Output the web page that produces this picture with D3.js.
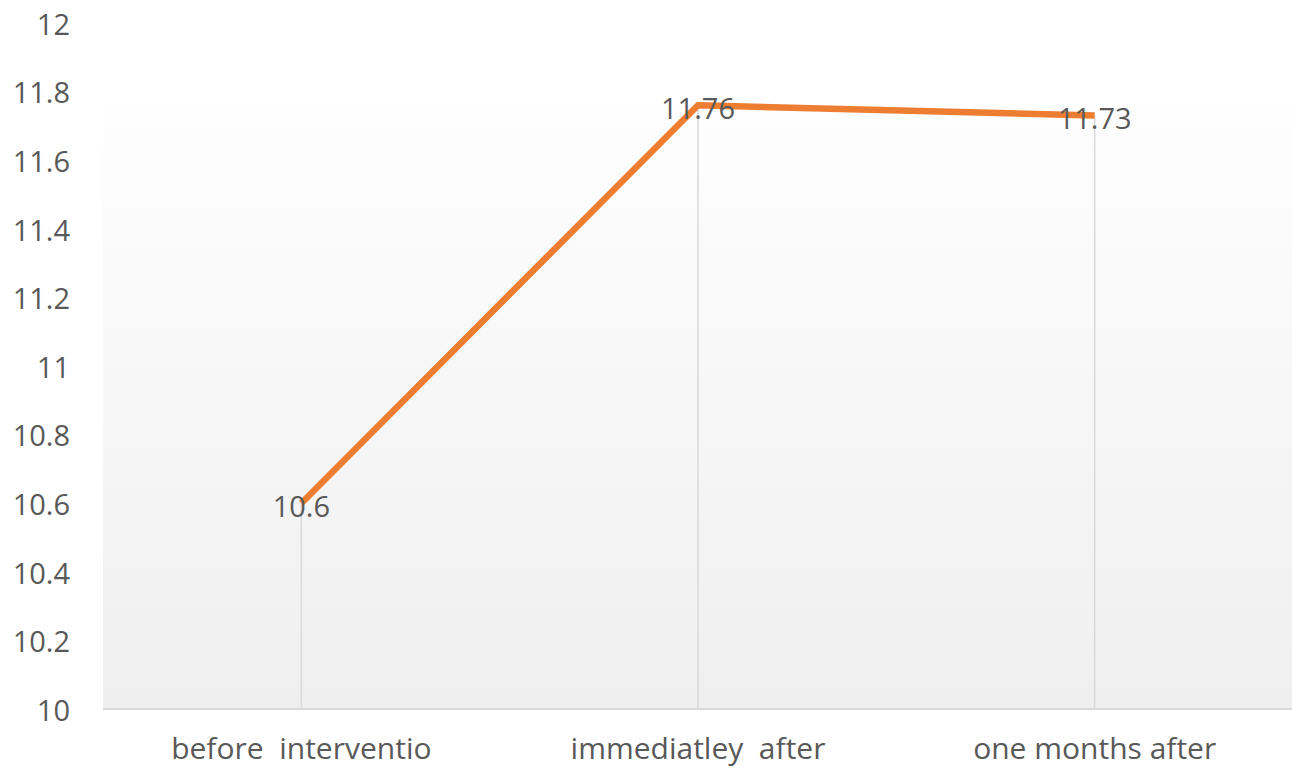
<!DOCTYPE html>
<html>
<head>
<meta charset="utf-8">
<script src="https://cdn.jsdelivr.net/npm/d3@7"></script>
<style>
  body { margin: 0; background: #fff; }
  svg { display: block; }
</style>
</head>
<body>
<div id="chart"></div>
<script>
const categories = ["before  interventio", "immediatley  after", "one months after"];
const values = [10.6, 11.76, 11.73];
const yTicks = [10, 10.2, 10.4, 10.6, 10.8, 11, 11.2, 11.4, 11.6, 11.8, 12];

const width = 1292, height = 768;
const plotLeft = 103, plotRight = 1293, plotTop = 23, plotBottom = 709;
const font = "'Open Sans', sans-serif";
const textColor = "#595959";

const svg = d3.select("#chart").append("svg")
  .attr("width", width)
  .attr("height", height);

// plot area background gradient
const grad = svg.append("defs").append("linearGradient")
  .attr("id", "bg")
  .attr("x1", 0).attr("y1", 0).attr("x2", 0).attr("y2", 1);
grad.append("stop").attr("offset", "0%").attr("stop-color", "#fefefe");
grad.append("stop").attr("offset", "100%").attr("stop-color", "#efefef");

const x = d3.scaleBand().domain(categories).range([plotLeft, plotRight]).padding(0);
const y = d3.scaleLinear().domain([10, 12]).range([plotBottom, plotTop]);

svg.append("rect")
  .attr("x", plotLeft)
  .attr("y", y(11.76))
  .attr("width", plotRight - plotLeft)
  .attr("height", plotBottom - y(11.76))
  .attr("fill", "url(#bg)");

// y axis labels
const yAxis = svg.append("g")
  .attr("transform", `translate(${plotLeft - 33},2)`)
  .call(d3.axisLeft(y).tickValues(yTicks).tickSize(0).tickPadding(0).tickFormat(d3.format("~g")));
yAxis.select(".domain").remove();
yAxis.selectAll("text")
  .attr("fill", textColor)
  .style("font-family", font)
  .style("font-size", "29px");

// x axis labels
const xAxis = svg.append("g")
  .attr("transform", `translate(0,${plotBottom})`)
  .call(d3.axisBottom(x).tickSize(0).tickPadding(29));
xAxis.select(".domain").remove();
xAxis.selectAll("text")
  .attr("fill", textColor)
  .style("font-family", font)
  .style("font-size", "30px")
  .style("white-space", "pre");

const cx = d => x(d) + x.bandwidth() / 2;

// drop lines
svg.selectAll(".drop").data(categories).enter().append("line")
  .attr("x1", cx).attr("x2", cx)
  .attr("y1", (d, i) => y(values[i]))
  .attr("y2", plotBottom)
  .attr("stroke", "#d9d9d9")
  .attr("stroke-width", 1.5);

// baseline
svg.append("line")
  .attr("x1", plotLeft).attr("x2", plotRight)
  .attr("y1", plotBottom).attr("y2", plotBottom)
  .attr("stroke", "#d9d9d9")
  .attr("stroke-width", 2);

// series line
const line = d3.line()
  .x((d, i) => cx(categories[i]))
  .y(d => y(d));

svg.append("path")
  .datum(values)
  .attr("d", line)
  .attr("fill", "none")
  .attr("stroke", "#ED7D31")
  .attr("stroke-width", 6.5)
  .attr("stroke-linejoin", "round");

// data labels
svg.selectAll(".lbl").data(values).enter().append("text")
  .attr("x", (d, i) => cx(categories[i]))
  .attr("y", d => y(d) + 6)
  .attr("text-anchor", "middle")
  .attr("dominant-baseline", "middle")
  .attr("fill", textColor)
  .style("font-family", font)
  .style("font-size", "29px")
  .text(d => d);
</script>
</body>
</html>
